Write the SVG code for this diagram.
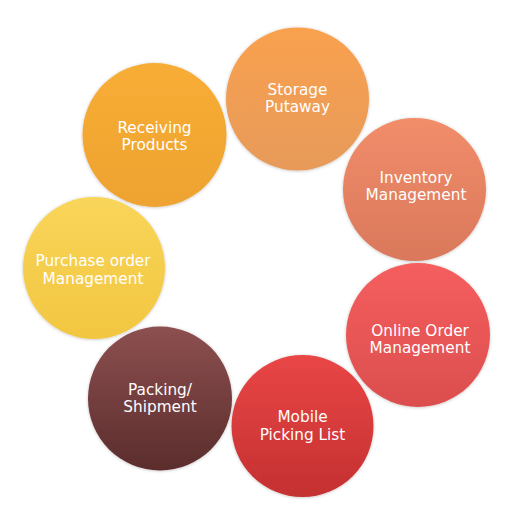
<svg xmlns="http://www.w3.org/2000/svg" width="520" height="520" viewBox="0 0 520 520">
<style>
  .lbl { font-family: "DejaVu Sans", "Open Sans", sans-serif; font-size: 15.3px; fill: #ffffff; text-anchor: middle; }
  .c { filter: url(#sh); }
</style>
<defs>
  <filter id="sh" x="-10%" y="-10%" width="120%" height="120%">
    <feDropShadow dx="0" dy="0.5" stdDeviation="1.5" flood-color="#000000" flood-opacity="0.25"/>
  </filter>
  <linearGradient id="gStorage" x1="0" y1="0" x2="0" y2="1"><stop offset="0" stop-color="#F9A14E"/><stop offset="1" stop-color="#E79A5A"/></linearGradient>
  <linearGradient id="gInventory" x1="0" y1="0" x2="0" y2="1"><stop offset="0" stop-color="#F28D6A"/><stop offset="1" stop-color="#D9785B"/></linearGradient>
  <linearGradient id="gOnline" x1="0" y1="0" x2="0" y2="1"><stop offset="0" stop-color="#F65E5E"/><stop offset="1" stop-color="#DB4E4E"/></linearGradient>
  <linearGradient id="gMobile" x1="0" y1="0" x2="0" y2="1"><stop offset="0" stop-color="#E94646"/><stop offset="1" stop-color="#C43030"/></linearGradient>
  <linearGradient id="gPacking" x1="0" y1="0" x2="0" y2="1"><stop offset="0" stop-color="#8D5050"/><stop offset="1" stop-color="#5B2C2C"/></linearGradient>
  <linearGradient id="gPurchase" x1="0" y1="0" x2="0" y2="1"><stop offset="0" stop-color="#F9D55A"/><stop offset="1" stop-color="#F2C640"/></linearGradient>
  <linearGradient id="gReceiving" x1="0" y1="0" x2="0" y2="1"><stop offset="0" stop-color="#F7AD35"/><stop offset="1" stop-color="#EEA330"/></linearGradient>
</defs>
<rect width="520" height="520" fill="#ffffff"/>
<g id="connectors"></g>
<g id="storage-putaway">
  <circle class="c" cx="297.5" cy="99" r="71.5" fill="url(#gStorage)"/>
  <text class="lbl" x="297.5" y="94.6">Storage<tspan x="297.5" dy="17.8">Putaway</tspan></text>
</g>
<g id="inventory-management">
  <circle class="c" cx="414.5" cy="189.5" r="71.5" fill="url(#gInventory)"/>
  <text class="lbl" x="416" y="182.6">Inventory<tspan x="416" dy="17.8">Management</tspan></text>
</g>
<g id="online-order-management">
  <circle class="c" cx="418" cy="335" r="72" fill="url(#gOnline)"/>
  <text class="lbl" x="420" y="335.6">Online Order<tspan x="420" dy="17.8">Management</tspan></text>
</g>
<g id="mobile-picking-list">
  <circle class="c" cx="302.5" cy="426" r="71" fill="url(#gMobile)"/>
  <text class="lbl" x="302.5" y="422.3">Mobile<tspan x="302.5" dy="17.8">Picking List</tspan></text>
</g>
<g id="packing-shipment">
  <circle class="c" cx="160" cy="398.5" r="72" fill="url(#gPacking)"/>
  <text class="lbl" x="160" y="394.6">Packing/<tspan x="160" dy="17.8">Shipment</tspan></text>
</g>
<g id="purchase-order-management">
  <circle class="c" cx="94" cy="268" r="71" fill="url(#gPurchase)"/>
  <text class="lbl" x="93" y="266.1">Purchase order<tspan x="93" dy="17.8">Management</tspan></text>
</g>
<g id="receiving-products">
  <circle class="c" cx="154.5" cy="135" r="72" fill="url(#gReceiving)"/>
  <text class="lbl" x="154.5" y="132.6">Receiving<tspan x="154.5" dy="17.8">Products</tspan></text>
</g>
</svg>
